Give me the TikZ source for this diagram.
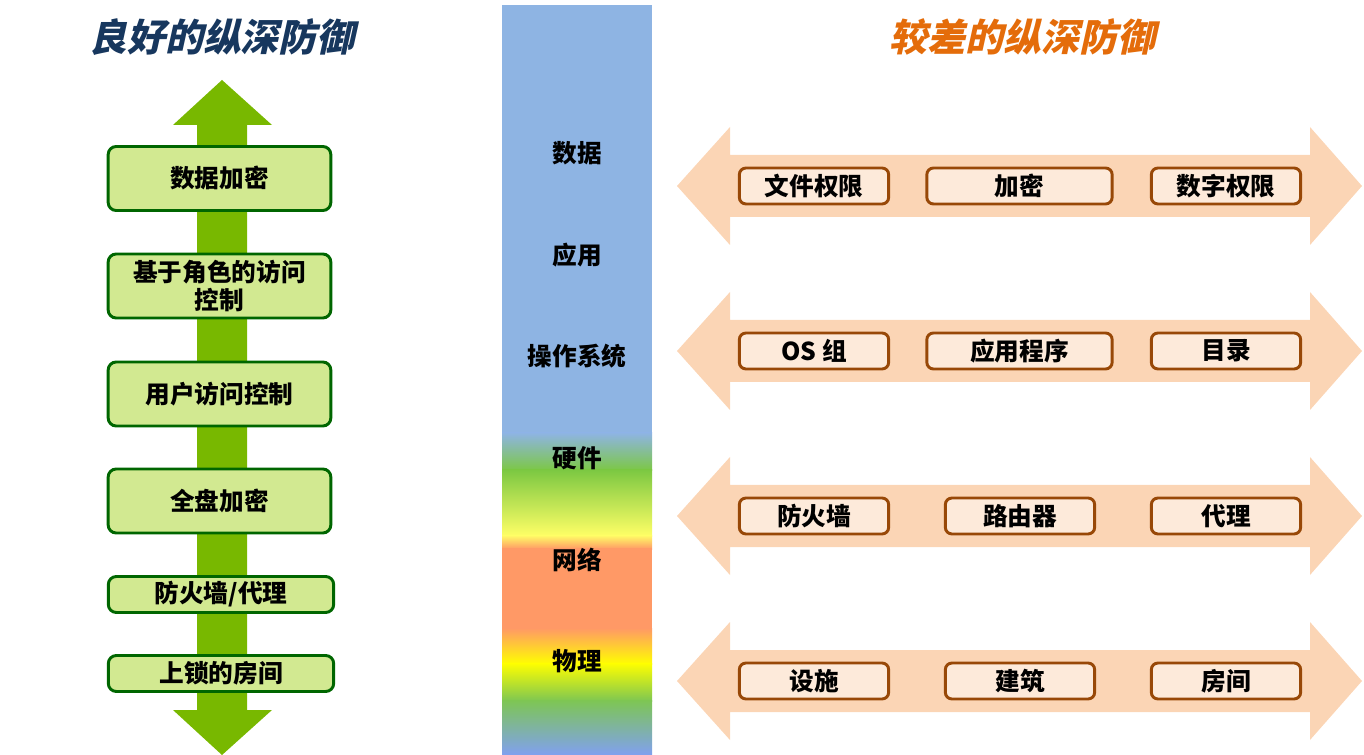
\documentclass[tikz,border=0pt]{standalone}
\usepackage{fontspec}
\usepackage{xcolor}
\usetikzlibrary{positioning}
\newfontfamily\cjk{Noto Sans CJK SC}
\newfontfamily\titlefont{Noto Sans CJK SC}[FakeSlant=0.22]

\definecolor{goodline}{RGB}{0,102,0}
\definecolor{goodfill}{RGB}{210,233,145}
\definecolor{goodarrow}{RGB}{120,184,0}
\definecolor{badline}{RGB}{152,72,7}
\definecolor{badfill}{RGB}{253,234,218}
\definecolor{badarrow}{RGB}{251,213,181}
\definecolor{goodtitle}{RGB}{23,55,94}
\definecolor{badtitle}{RGB}{228,108,10}
\definecolor{layblue}{RGB}{142,180,227}
\definecolor{laygreen}{RGB}{124,200,66}
\definecolor{layyellow}{RGB}{255,255,102}
\definecolor{layorange}{RGB}{255,153,102}
\definecolor{laysun}{RGB}{255,255,0}
\definecolor{laylow}{RGB}{128,160,240}

\begin{document}
\begin{tikzpicture}[
    x=0.75pt, y=-0.75pt,
    goodbox/.style={rectangle, draw=goodline, line width=2.2pt, fill=goodfill, rounded corners=6pt,
        minimum width=167pt, minimum height=48pt, align=center, font=\cjk\bfseries\fontsize{18.5}{22}\selectfont},
    goodthin/.style={goodbox, minimum width=169pt, minimum height=27pt},
    badbox/.style={rectangle, draw=badline, line width=2.2pt, fill=badfill, rounded corners=5pt,
        minimum width=112pt, minimum height=27pt, font=\cjk\bfseries\fontsize{18.5}{22}\selectfont},
    layer/.style={font=\cjk\bfseries\fontsize{18.5}{22}\selectfont},
    heading/.style={font=\titlefont\bfseries\fontsize{28.5}{32}\selectfont}
]
\useasboundingbox (0,0) rectangle (1364,755);

% titles
\node[heading, text=goodtitle] (goodtitle) at (222,37) {良好的纵深防御};
\node[heading, text=badtitle] (badtitle) at (1022,37) {较差的纵深防御};

% green up/down arrow
\fill[goodarrow] (222,80) -- (272,125) -- (247,125) -- (247,710) -- (272,710) -- (222,755)
    -- (173,710) -- (197,710) -- (197,125) -- (173,125) -- cycle;

% layer bar
\fill[layblue] (502,5) rectangle (652,434);
\shade[top color=layblue, bottom color=laygreen] (502,433) rectangle (652,471);
\shade[top color=laygreen, bottom color=layyellow] (502,470) rectangle (652,536);
\shade[top color=layyellow, bottom color=layorange] (502,535) rectangle (652,549);
\fill[layorange] (502,548) rectangle (652,629);
\shade[top color=layorange, bottom color=laysun] (502,628) rectangle (652,664);
\shade[top color=laysun, bottom color=laygreen!90!layblue] (502,663) rectangle (652,701);
\shade[top color=laygreen!90!layblue, bottom color=laylow] (502,700) rectangle (652,755);

\node[layer] (data) at (577,153) {数据};
\node[layer] (app) at (577,255) {应用};
\node[layer] (os) at (577,356) {操作系统};
\node[layer] (hw) at (577,458) {硬件};
\node[layer] (net) at (577,560) {网络};
\node[layer] (phys) at (577,661) {物理};

% good boxes
\node[goodbox] (encrypt) at (219.5,178.5) {数据加密};
\node[goodbox] (rbac) at (219.5,286) {基于角色的访问\\[-1pt]控制};
\node[goodbox] (uac) at (219.5,394) {用户访问控制};
\node[goodbox] (disk) at (219.5,501) {全盘加密};
\node[goodthin] (fw) at (221,594.5) {防火墙/代理};
\node[goodthin] (room) at (221,673.5) {上锁的房间};

% pink double arrows
\foreach \c in {186,351,516,681}
  \fill[badarrow] (677,\c) -- (730,\c-59) -- (730,\c-31) -- (1310,\c-31) -- (1310,\c-59) -- (1362,\c)
    -- (1310,\c+59) -- (1310,\c+31) -- (730,\c+31) -- (730,\c+59) -- cycle;

% bad boxes
\node[badbox] (files) at (814,186) {文件权限};
\node[badbox, minimum width=139pt] (crypt) at (1019.5,186) {加密};
\node[badbox] (drm) at (1226,186) {数字权限};
\node[badbox] (osgroup) at (814,351) {OS 组};
\node[badbox, minimum width=139pt] (apps) at (1019.5,351) {应用程序};
\node[badbox] (dirs) at (1226,351) {目录};
\node[badbox] (wall) at (814,516) {防火墙};
\node[badbox] (router) at (1020,516) {路由器};
\node[badbox] (proxy) at (1226,516) {代理};
\node[badbox] (site) at (814,681) {设施};
\node[badbox] (build) at (1020,681) {建筑};
\node[badbox] (rooms) at (1226,681) {房间};
\end{tikzpicture}
\end{document}
